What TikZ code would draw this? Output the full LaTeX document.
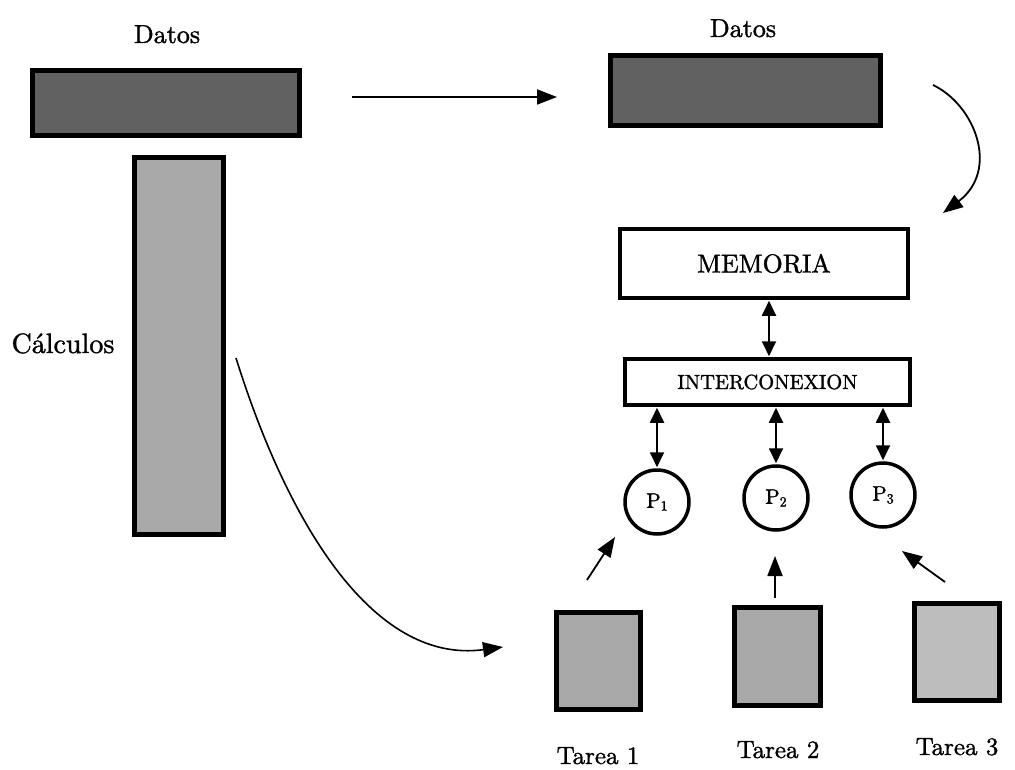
\documentclass[tikz,border=0pt]{standalone}
\usepackage{fontspec}
\setmainfont{lmroman10-regular.otf}[FakeBold=1.3]
\usetikzlibrary{arrows.meta}
\definecolor{darkfill}{gray}{0.38}
\definecolor{lightfill}{gray}{0.66}
\definecolor{paletask}{gray}{0.74}
\newcommand{\procname}[1]{P\raisebox{-0.3ex}{\fontsize{14}{14}\selectfont #1}}
\begin{document}
\begin{tikzpicture}[x=1pt,y=-1pt,
  txt/.style={inner sep=0pt, anchor=base, font=\fontsize{26}{30}\selectfont},
  block/.style={draw, line width=5pt, inner sep=0pt},
  unit/.style={draw, line width=3.5pt, inner sep=0pt, fill=white},
  proc/.style={draw, circle, line width=3.5pt, minimum size=64pt, inner sep=0pt,
    font=\fontsize{21}{24}\selectfont},
  arr/.style={line width=1.8pt, -{Triangle[length=20pt,width=15pt]}},
  dbl/.style={line width=1.8pt, {Triangle[length=15pt,width=14pt]}-{Triangle[length=15pt,width=14pt]}, shorten <=1pt, shorten >=1pt}
]
\useasboundingbox (0,0) rectangle (1015,770);

% sequential view: data block and computation column
\node[txt] (datosL) at (167,43) {Datos};
\node[block, fill=darkfill, minimum width=267pt, minimum height=65pt] (barL) at (166,103.5) {};
\node[block, fill=lightfill, minimum width=89pt, minimum height=377pt] (calc) at (179,346) {};
\node[txt, font=\fontsize{28}{32}\selectfont] (calcL) at (63,353) {Cálculos};

% parallel view: data block
\node[txt] (datosR) at (743,37) {Datos};
\node[block, fill=darkfill, minimum width=270pt, minimum height=70pt] (barR) at (745.5,90.5) {};

% memory, interconnect and processors
\node[unit, minimum width=288pt, minimum height=69pt, font=\fontsize{26}{30}\selectfont] (mem) at (764,263.5) {MEMORIA};
\node[unit, minimum width=285pt, minimum height=46pt, font=\fontsize{20.5}{24}\selectfont] (net) at (767.5,382) {INTERCONEXION};
\node[proc] (p1) at (657,502) {\procname{1}};
\node[proc] (p2) at (776,498) {\procname{2}};
\node[proc] (p3) at (883,495) {\procname{3}};

% tasks
\node[block, fill=lightfill, minimum width=84pt, minimum height=97pt] (t1) at (598.5,661) {};
\node[block, fill=lightfill, minimum width=86pt, minimum height=98pt] (t2) at (777.5,656.5) {};
\node[block, fill=paletask, minimum width=85pt, minimum height=97pt] (t3) at (957,652) {};
\node[txt, font=\fontsize{25}{30}\selectfont] (t1L) at (598,764) {Tarea 1};
\node[txt, font=\fontsize{25}{30}\selectfont] (t2L) at (778,758) {Tarea 2};
\node[txt, font=\fontsize{25}{30}\selectfont] (t3L) at (957,755) {Tarea 3};

% free ends of the connectors
\coordinate (moveA) at (352,97);
\coordinate (moveB) at (557,97);
\coordinate (dataA) at (933,85);
\coordinate (dataB) at (943,213);
\coordinate (splitA) at (236,358);
\coordinate (splitB) at (503,647);
\coordinate (t1a) at (587,580);
\coordinate (t1b) at (615,537);
\coordinate (t2a) at (775,598);
\coordinate (t2b) at (775,556);
\coordinate (t3a) at (945,582);
\coordinate (t3b) at (902,551);

% connectors
\draw[arr] (moveA) -- (moveB);
\draw[arr] (dataA) .. controls (975,105) and (1000,170) .. (dataB);
\draw[arr, line width=1.6pt] (splitA) .. controls (285,515) and (370,665) .. (splitB);
\draw[dbl] ([xshift=5pt]mem.south) -- ([xshift=5pt]mem.south |- net.north);
\draw[dbl] (p1.north |- net.south) -- (p1.north);
\draw[dbl] (p2.north |- net.south) -- (p2.north);
\draw[dbl] (p3.north |- net.south) -- (p3.north);
\draw[arr] (t1a) -- (t1b);
\draw[arr] (t2a) -- (t2b);
\draw[arr] (t3a) -- (t3b);
\end{tikzpicture}
\end{document}
